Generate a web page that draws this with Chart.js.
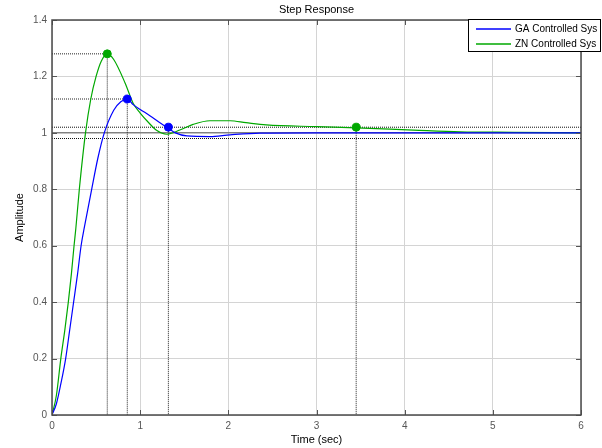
<!DOCTYPE html>
<html>
<head>
<title>Step Response</title>
<script src="https://cdn.jsdelivr.net/npm/chart.js"></script>
</head>
<style>
body { margin: 0; background: #fff; }
#wrap { width: 602px; height: 448px; }
</style>
<body>
<div id="wrap"><canvas id="chart" width="602" height="448"></canvas></div>
<script>
// step response samples
const gaTime = [0, 0.05, 0.1, 0.155, 0.2, 0.245, 0.29, 0.33, 0.37, 0.45, 0.52, 0.593, 0.7, 0.78, 0.854, 0.92, 1.0, 1.11, 1.22, 1.32, 1.4, 1.53, 1.79, 2.02, 2.36, 3, 4, 5, 6];
const gaAmp  = [0, 0.04, 0.11, 0.2, 0.3, 0.4, 0.5, 0.6, 0.67, 0.8, 0.91, 1.0, 1.08, 1.11, 1.12, 1.1, 1.083, 1.061, 1.037, 1.016, 1.0, 0.989, 0.987, 0.993, 0.999, 1.0, 1.0, 1.0, 1.0];
const znTime = [0, 0.05, 0.1, 0.145, 0.185, 0.22, 0.25, 0.27, 0.31, 0.38, 0.44, 0.5, 0.56, 0.627, 0.7, 0.83, 0.92, 1.0, 1.1, 1.19, 1.3, 1.45, 1.6, 1.79, 2.02, 2.2, 2.43, 3.0, 3.45, 4.1, 4.63, 5.23, 6];
const znAmp  = [0, 0.07, 0.2, 0.3, 0.4, 0.5, 0.6, 0.66, 0.8, 1.0, 1.12, 1.2, 1.255, 1.28, 1.26, 1.176, 1.105, 1.07, 1.035, 1.008, 0.995, 1.01, 1.03, 1.043, 1.043, 1.036, 1.028, 1.022, 1.018, 1.01, 1.004, 1.002, 1.0];

// characteristic points [time, amplitude]
const gaPeak = [0.854, 1.12];
const znPeak = [0.627, 1.28];
const gaSettle = [1.32, 1.02];
const znSettle = [3.45, 1.02];
const band = [0.98, 1.0, 1.02];

const xTicks = [0, 1, 2, 3, 4, 5, 6];
const yTicks = [0, 0.2, 0.4, 0.6, 0.8, 1, 1.2, 1.4];

const blue = '#0000ff';
const green = '#00a800';

function pts(xs, ys) {
  return xs.map((x, i) => ({ x: x, y: ys[i] }));
}
function peakLine(p) {
  return [{ x: 0, y: p[1] }, { x: p[0], y: p[1] }, { x: p[0], y: 0 }];
}
function dropLine(p) {
  return [{ x: p[0], y: p[1] }, { x: p[0], y: 0 }];
}
function refDs(data, color, dash) {
  return { data: data, showLine: true, borderColor: color, borderWidth: 1, borderDash: dash, pointRadius: 0, fill: false, tension: 0 };
}

const datasets = [
  { data: [{ x: gaPeak[0], y: gaPeak[1] }, { x: gaSettle[0], y: gaSettle[1] }], showLine: false, pointRadius: 4, pointBackgroundColor: blue, pointBorderColor: blue },
  { data: [{ x: znPeak[0], y: znPeak[1] }, { x: znSettle[0], y: znSettle[1] }], showLine: false, pointRadius: 4, pointBackgroundColor: green, pointBorderColor: green },
  { data: pts(gaTime, gaAmp), showLine: true, borderColor: blue, borderWidth: 1.2, pointRadius: 0, cubicInterpolationMode: 'monotone', fill: false },
  { data: pts(znTime, znAmp), showLine: true, borderColor: green, borderWidth: 1.2, pointRadius: 0, cubicInterpolationMode: 'monotone', fill: false },
  refDs(peakLine(gaPeak), '#222', [1, 1]),
  refDs(peakLine(znPeak), '#222', [1, 1]),
  refDs(dropLine(gaSettle), '#222', [1, 1]),
  refDs(dropLine(znSettle), '#222', [1, 1]),
  refDs([{ x: 0, y: band[0] }, { x: 6, y: band[0] }], '#111', [1, 1]),
  refDs([{ x: 0, y: band[1] }, { x: 6, y: band[1] }], '#555', []),
  refDs([{ x: 0, y: band[2] }, { x: 6, y: band[2] }], '#111', [1, 1])
];

const font = 'Liberation Sans';

// frame, inward ticks, titles and legend box
const decor = {
  id: 'decor',
  afterDatasetsDraw(chart) {
    const c = chart.ctx, a = chart.chartArea;
    const xs = chart.scales.x, ys = chart.scales.y;
    c.save();
    c.strokeStyle = '#555';
    c.lineWidth = 1;
    xTicks.forEach(v => {
      const px = Math.round(xs.getPixelForValue(v)) + 0.5;
      c.beginPath();
      c.moveTo(px, a.bottom); c.lineTo(px, a.bottom - 5);
      c.moveTo(px, a.top); c.lineTo(px, a.top + 5);
      c.stroke();
    });
    yTicks.forEach(v => {
      const py = Math.round(ys.getPixelForValue(v)) + 0.5;
      c.beginPath();
      c.moveTo(a.left, py); c.lineTo(a.left + 5, py);
      c.moveTo(a.right, py); c.lineTo(a.right - 5, py);
      c.stroke();
    });
    c.lineWidth = 1.5;
    c.strokeStyle = '#4a4a4a';
    c.strokeRect(a.left, a.top, a.right - a.left, a.bottom - a.top);

    c.fillStyle = '#000';
    c.font = '11px "' + font + '"';
    c.textAlign = 'center';
    c.textBaseline = 'middle';
    c.fillText('Step Response', (a.left + a.right) / 2, 10);
    c.fillText('Time (sec)', (a.left + a.right) / 2, 440);
    c.save();
    c.translate(20, (a.top + a.bottom) / 2);
    c.rotate(-Math.PI / 2);
    c.fillText('Amplitude', 0, 0);
    c.restore();

    // legend
    const lx = 468, ly = 19, lw = 133, lh = 33;
    c.fillStyle = '#fff';
    c.fillRect(lx, ly, lw, lh);
    c.lineWidth = 1;
    c.strokeStyle = '#000';
    c.strokeRect(lx + 0.5, ly + 0.5, lw - 1, lh - 1);
    const items = [['GA Controlled Sys', blue], ['ZN Controlled Sys', green]];
    items.forEach((it, i) => {
      const y = ly + 10 + i * 15;
      c.strokeStyle = it[1];
      c.lineWidth = 1.5;
      c.beginPath();
      c.moveTo(lx + 8, y); c.lineTo(lx + 43, y);
      c.stroke();
      c.fillStyle = '#000';
      c.textAlign = 'left';
      c.font = '10px "' + font + '"';
      c.fillText(it[0], lx + 47, y);
    });
    c.restore();
  }
};

new Chart(document.getElementById('chart'), {
  type: 'scatter',
  data: { datasets: datasets },
  options: {
    responsive: false,
    animation: false,
    layout: { padding: { left: 0, right: 21, top: 20, bottom: 0 } },
    plugins: { legend: { display: false }, tooltip: { enabled: false } },
    scales: {
      x: {
        type: 'linear', min: 0, max: 6,
        afterFit: s => { s.height = 33; },
        afterBuildTicks: s => { s.ticks = xTicks.map(v => ({ value: v })); },
        grid: { color: '#d4d4d4', drawTicks: false },
        border: { display: false },
        ticks: { padding: 5, color: '#555', font: { family: font, size: 10 }, maxRotation: 0 }
      },
      y: {
        type: 'linear', min: 0, max: 1.4,
        afterFit: s => { s.width = 52; },
        afterBuildTicks: s => { s.ticks = yTicks.map(v => ({ value: v })); },
        grid: { color: '#d4d4d4', drawTicks: false },
        border: { display: false },
        ticks: { padding: 5, color: '#555', font: { family: font, size: 10 }, callback: v => String(+v.toFixed(1)) }
      }
    }
  },
  plugins: [decor]
});
</script>
</body>
</html>
